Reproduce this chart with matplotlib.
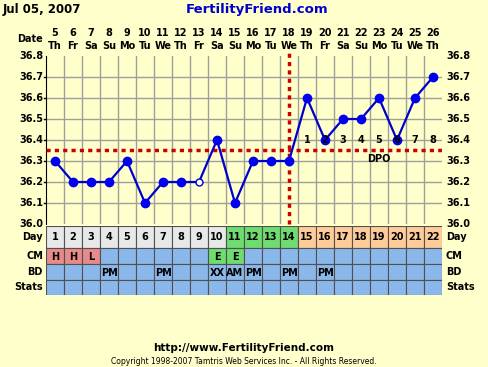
import matplotlib
matplotlib.use('Agg')
import matplotlib.pyplot as plt
from matplotlib.patches import Rectangle

# chart data
days = list(range(1, 23))
dates = [5, 6, 7, 8, 9, 10, 11, 12, 13, 14, 15, 16, 17, 18, 19, 20, 21, 22, 23, 24, 25, 26]
weekdays = ['Th', 'Fr', 'Sa', 'Su', 'Mo', 'Tu', 'We', 'Th', 'Fr', 'Sa', 'Su',
            'Mo', 'Tu', 'We', 'Th', 'Fr', 'Sa', 'Su', 'Mo', 'Tu', 'We', 'Th']
temps = [36.3, 36.2, 36.2, 36.2, 36.3, 36.1, 36.2, 36.2, 36.2, 36.4, 36.1,
         36.3, 36.3, 36.3, 36.6, 36.4, 36.5, 36.5, 36.6, 36.4, 36.6, 36.7]
open_days = [9]
coverline = 36.35
ovulation_day = 14
dpo = [1, 2, 3, 4, 5, 6, 7, 8]
cm = ['H', 'H', 'L', '', '', '', '', '', '', 'E', 'E', '', '', '', '', '', '', '', '', '', '', '']
bd = ['', '', '', 'PM', '', '', 'PM', '', '', 'XX', 'AM', 'PM', '', 'PM', '', 'PM', '', '', '', '', '', '']
yticks = [36.0, 36.1, 36.2, 36.3, 36.4, 36.5, 36.6, 36.7, 36.8]

BG = '#FFFFCC'
BLUE_CELL = '#8BB8EA'
GRID = '#A0A09A'
W, H = 488, 367

fig = plt.figure(figsize=(W / 100, H / 100), dpi=100, facecolor=BG)
font = dict(fontfamily='DejaVu Sans', fontweight='bold', fontsize=7)


def box(x0, y0, x1, y1):
    # pixel box (top-left origin) -> figure fraction rect
    return [x0 / W, 1 - y1 / H, (x1 - x0) / W, (y1 - y0) / H]


# full-figure overlay for loose text
ov = fig.add_axes([0, 0, 1, 1])
ov.set_xlim(0, W)
ov.set_ylim(H, 0)
ov.axis('off')

# temperature chart
ax = fig.add_axes(box(46, 56, 442, 224))
ax.set_facecolor(BG)
ax.set_xlim(0.5, 22.5)
ax.set_ylim(36.0, 36.8)
for x in range(1, 22):
    ax.axvline(x + 0.5, color=GRID, lw=1)
for y in yticks[1:-1]:
    ax.axhline(y, color=GRID, lw=1)
ax.set_xticks([])
ax.set_yticks([])
for s in ['top', 'right', 'bottom']:
    ax.spines[s].set_visible(False)
ax.spines['left'].set_color('black')

ax.axhline(coverline, color='#CC0000', lw=2.5, ls=(0, (1.2, 1.2)), zorder=3)
ax.plot([ovulation_day, ovulation_day], [36.0, 36.82], color='#CC0000', lw=2.5,
        ls=(0, (1.2, 1.2)), zorder=3, clip_on=False)

ax.plot(days, temps, color='#0000CC', lw=1.6, zorder=4)
filled_x = [d for d in days if d not in open_days]
filled_y = [t for d, t in zip(days, temps) if d not in open_days]
ax.plot(filled_x, filled_y, 'o', color='#0000EE', ms=6, zorder=5)
ax.plot(open_days, [temps[d - 1] for d in open_days], 'o', mfc='white',
        mec='#0000CC', mew=1, ms=5, zorder=5)

for i, n in enumerate(dpo):
    ax.text(ovulation_day + 1 + i, 36.4, str(n), ha='center', va='center', zorder=6, **font)
ax.text(ovulation_day + 5, 36.31, 'DPO', ha='center', va='center', zorder=6, **font)

# y tick labels both sides
for t in yticks:
    yp = 56 + (36.8 - t) / 0.8 * 168
    ov.text(43, yp, f'{t:.1f}', ha='right', va='center', **font)
    ov.text(446, yp, f'{t:.1f}', ha='left', va='center', **font)
    if 36.0 < t < 36.8:
        ov.plot([44, 46], [yp, yp], color='black', lw=1)

# header
ov.text(3, 10, 'Jul 05, 2007', ha='left', va='center',
        fontfamily='DejaVu Sans', fontweight='bold', fontsize=8.5)
ov.text(257, 10, 'FertilityFriend.com', ha='center', va='center', color='#0000CC',
        fontfamily='DejaVu Sans', fontweight='bold', fontsize=9.5)
ov.text(43, 39, 'Date', ha='right', va='center', **font)
for i, (d, wd) in enumerate(zip(dates, weekdays)):
    xc = 46 + 18 * i + 9
    ov.text(xc, 33, str(d), ha='center', va='center', **font)
    ov.text(xc, 46, wd, ha='center', va='center', **font)

# bottom table
tb = fig.add_axes(box(46, 226, 442, 295))
tb.set_xlim(0.5, 22.5)
tb.set_ylim(69, 0)
tb.axis('off')
rows = [(0, 22), (22, 38), (38, 54), (54, 69)]
row_names = ['Day', 'CM', 'BD', 'Stats']
for i, d in enumerate(days):
    x0 = d - 0.5
    if d <= 10:
        dc = '#E8E8E8'
    elif d <= 14:
        dc = '#6EDC6E'
    else:
        dc = '#FFCC99'
    if cm[i] in ('H', 'L'):
        cc = '#E88A8A'
    elif cm[i] == 'E':
        cc = '#6EDC6E'
    else:
        cc = BLUE_CELL
    colors = [dc, cc, BLUE_CELL, BLUE_CELL]
    labels = [str(d), cm[i], bd[i], '']
    for (r0, r1), c, lab in zip(rows, colors, labels):
        tb.add_patch(Rectangle((x0, r0), 1, r1 - r0, facecolor=c, edgecolor='#505050', lw=0.8))
        if lab:
            tb.text(d, (r0 + r1) / 2 + 0.5, lab, ha='center', va='center', **font)
for (r0, r1), name in zip(rows, row_names):
    yp = 226 + (r0 + r1) / 2
    ov.text(43, yp, name, ha='right', va='center', **font)
    ov.text(446, yp, name, ha='left', va='center', **font)

# footer
ov.text(244, 348, 'http://www.FertilityFriend.com', ha='center', va='center',
        fontfamily='DejaVu Sans', fontweight='bold', fontsize=7.5)
ov.text(244, 362, 'Copyright 1998-2007 Tamtris Web Services Inc. - All Rights Reserved.',
        ha='center', va='center', fontfamily='DejaVu Sans', fontsize=5.5)

fig.savefig('out.png', dpi=100, facecolor=BG)
